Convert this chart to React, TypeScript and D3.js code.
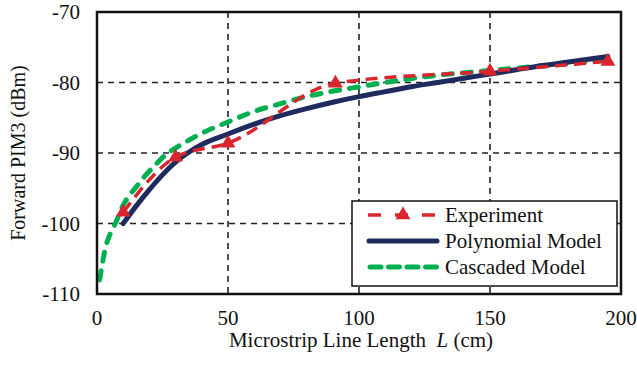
import * as d3 from "d3"

// axis ticks
const xTicks = [0, 50, 100, 150, 200]
const yTicks = [-70, -80, -90, -100, -110]

// experiment (measured points)
const expX = [10, 30, 50, 91, 150, 195]
const expY = [-98.4, -90.6, -88.6, -80.1, -78.4, -77.0]

// polynomial model
const polyX = [10, 15, 20, 25, 30, 35, 40, 50, 60, 70, 80, 90, 100, 110, 120, 130, 140, 150, 160, 170, 180, 195]
const polyY = [-100, -97.5, -95.2, -93.1, -91.3, -89.9, -88.8, -87.3, -85.9, -84.7, -83.7, -82.8, -82.0, -81.3, -80.6, -80.0, -79.4, -78.8, -78.2, -77.6, -77.1, -76.3]

// cascaded model
const casX = [1, 2, 3, 5, 7, 10, 12, 15, 18, 22, 27, 30, 40, 50, 60, 71, 80, 89, 97, 110, 127, 150, 165, 178, 195]
const casY = [-108, -105.8, -103.8, -101.5, -100, -97.4, -96.2, -94.8, -93.4, -91.8, -90, -89.3, -87.2, -85.6, -84.1, -82.9, -82.0, -81.3, -80.8, -80.0, -79.1, -78.3, -77.8, -77.4, -76.8]

const RED = "#d9262e"
const NAVY = "#1f2a5e"
const GREEN = "#00b050"
const FONT = "'Liberation Serif', 'Times New Roman', serif"
const FS = 21

export default function App() {
  const width = 637
  const height = 366
  const left = 97, right = 621, top = 12, bottom = 294

  const x = d3.scaleLinear().domain([0, 200]).range([left, right])
  const y = d3.scaleLinear().domain([-110, -70]).range([bottom, top])

  const smooth = d3
    .line<[number, number]>()
    .x((d) => x(d[0]))
    .y((d) => y(d[1]))
    .curve(d3.curveMonotoneX)

  const expPts = expX.map((v, i) => [v, expY[i]] as [number, number])
  const polyPts = polyX.map((v, i) => [v, polyY[i]] as [number, number])
  const casPts = casX.map((v, i) => [v, casY[i]] as [number, number])

  const tri = d3.symbol().type(d3.symbolTriangle).size(95)()

  const legendItems = [
    { label: "Experiment", y: 215 },
    { label: "Polynomial Model", y: 241 },
    { label: "Cascaded Model", y: 267 },
  ]

  return (
    <svg
      width={width}
      height={height}
      style={{ position: "absolute", left: 0, top: 0, background: "white" }}
      fontFamily={FONT}
    >
      {/* grid */}
      {xTicks.slice(1, -1).map((t) => (
        <line key={"gx" + t} x1={x(t)} x2={x(t)} y1={top} y2={bottom} stroke="#222" strokeWidth={1.6} strokeDasharray="6,5" />
      ))}
      {yTicks.slice(1, -1).map((t) => (
        <line key={"gy" + t} x1={left} x2={right} y1={y(t)} y2={y(t)} stroke="#222" strokeWidth={1.6} strokeDasharray="6,5" />
      ))}

      {/* series */}
      <path d={smooth(casPts) || ""} fill="none" stroke={GREEN} strokeWidth={5} strokeDasharray="9,10" strokeLinecap="round" />
      <path d={smooth(polyPts) || ""} fill="none" stroke={NAVY} strokeWidth={5} strokeLinecap="round" />
      <path d={smooth(expPts) || ""} fill="none" stroke={RED} strokeWidth={3.5} strokeDasharray="12,7" />
      {expPts.map((p, i) => (
        <path key={"m" + i} d={tri || ""} transform={`translate(${x(p[0])},${y(p[1])})`} fill={RED} />
      ))}

      {/* frame */}
      <rect x={left} y={top} width={right - left} height={bottom - top} fill="none" stroke="#111" strokeWidth={2.5} />

      {/* tick labels */}
      {xTicks.map((t) => (
        <text key={"tx" + t} x={x(t)} y={325} textAnchor="middle" fontSize={FS} fill="#111">
          {t}
        </text>
      ))}
      {yTicks.map((t) => (
        <text key={"ty" + t} x={80} y={y(t)} dy="0.35em" textAnchor="end" fontSize={FS} fill="#111">
          {t}
        </text>
      ))}

      {/* axis titles */}
      <text x={(left + right) / 2 + 2} y={347} textAnchor="middle" fontSize={FS} fill="#111" xmlSpace="preserve">
        Microstrip Line Length  <tspan fontStyle="italic">L</tspan> (cm)
      </text>
      <text transform={`translate(25,${(top + bottom) / 2}) rotate(-90)`} textAnchor="middle" fontSize={20} fill="#111">
        Forward PIM3 (dBm)
      </text>

      {/* legend */}
      <rect x={352} y={201} width={265} height={85} fill="white" stroke="#111" strokeWidth={1.5} />
      {legendItems.map((it, i) => (
        <g key={it.label}>
          {i === 0 && (
            <>
              <line x1={368} x2={438} y1={it.y} y2={it.y} stroke={RED} strokeWidth={3.5} strokeDasharray="13,14" />
              <path d={tri || ""} transform={`translate(403,${it.y})`} fill={RED} />
            </>
          )}
          {i === 1 && <line x1={369} x2={437} y1={it.y} y2={it.y} stroke={NAVY} strokeWidth={5} strokeLinecap="round" />}
          {i === 2 && (
            <line x1={370} x2={438} y1={it.y} y2={it.y} stroke={GREEN} strokeWidth={5} strokeDasharray="11,7.5" strokeLinecap="round" />
          )}
          <text x={445} y={it.y} dy="0.35em" fontSize={FS} fill="#111">
            {it.label}
          </text>
        </g>
      ))}
    </svg>
  )
}
